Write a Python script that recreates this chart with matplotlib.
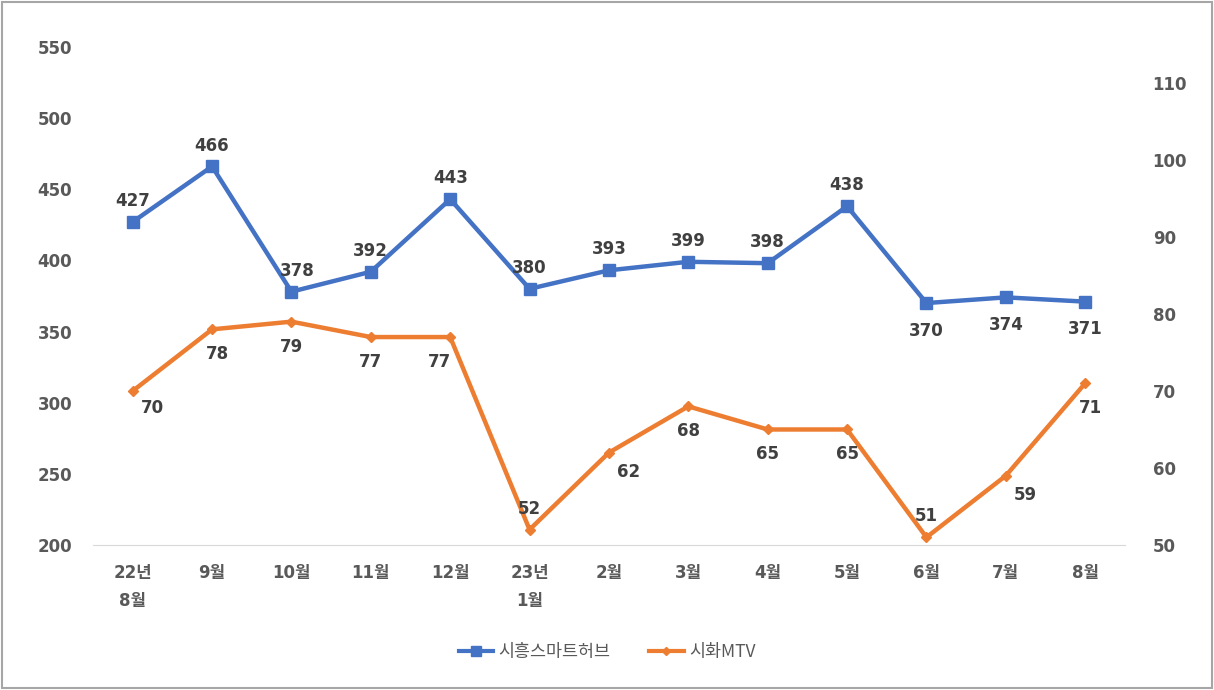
import matplotlib.pyplot as plt
from matplotlib.patches import Rectangle

plt.rcParams['font.family'] = ['DejaVu Sans', 'Noto Sans CJK KR']

months = ['22년\n8월', '9월', '10월', '11월', '12월', '23년\n1월', '2월',
          '3월', '4월', '5월', '6월', '7월', '8월']
siheung = [427, 466, 378, 392, 443, 380, 393, 399, 398, 438, 370, 374, 371]
sihwa = [70, 78, 79, 77, 77, 52, 62, 68, 65, 65, 51, 59, 71]

# label offsets (points) for each series
blue_off = [(0, 15), (0, 15), (4, 15), (0, 15), (0, 15), (0, 15), (0, 15),
            (0, 15), (0, 15), (0, 15), (0, -20), (0, -20), (0, -20)]
orange_off = [(14, -12), (4, -18), (0, -18), (0, -18), (-8, -18), (0, 15),
              (14, -14), (0, -18), (0, -18), (0, -18), (0, 15), (14, -14), (4, -18)]

blue = '#4472C4'
orange = '#ED7D31'
txt = '#404040'

fig = plt.figure(figsize=(12.14, 6.9), dpi=100)
ax = fig.add_axes([0.0766, 0.2101, 0.85, 0.722])
ax2 = ax.twinx()

x = list(range(len(months)))
ax.plot(x, siheung, color=blue, lw=3.2, marker='s', ms=8, zorder=3)
ax2.plot(x, sihwa, color=orange, lw=3.2, marker='D', ms=5, zorder=3)

for i, v in enumerate(siheung):
    ax.annotate(str(v), (i, v), xytext=blue_off[i], textcoords='offset points',
                ha='center', va='center', fontsize=12, fontweight='bold', color=txt)
for i, v in enumerate(sihwa):
    ax2.annotate(str(v), (i, v), xytext=orange_off[i], textcoords='offset points',
                 ha='center', va='center', fontsize=12, fontweight='bold', color=txt)

ax.set_xlim(-0.5, 12.5)
ax.set_ylim(200, 550)
ax.set_yticks(range(200, 551, 50))
ax2.set_ylim(50, 50 + 498 / 7.7)
ax2.set_yticks(range(50, 111, 10))
ax.set_xticks(x)
ax.set_xticklabels(months, linespacing=1.7)

for a in (ax, ax2):
    for s in a.spines.values():
        s.set_visible(False)
    a.tick_params(length=0, labelsize=12, labelcolor='#595959')
    for lab in a.get_yticklabels() + a.get_xticklabels():
        lab.set_fontweight('bold')
ax.spines['bottom'].set_visible(True)
ax.spines['bottom'].set_color('#d9d9d9')
ax.tick_params(axis='y', pad=15)
ax.tick_params(axis='x', pad=14)
ax2.tick_params(axis='y', pad=20)

h1, = ax.plot([], [], color=blue, lw=3, marker='s', ms=7)
h2, = ax.plot([], [], color=orange, lw=3, marker='D', ms=4)
fig.legend([h1, h2], ['시흥스마트허브', '시화MTV'], loc='center',
           bbox_to_anchor=(0.5, 0.055), ncol=2, frameon=False,
           handlelength=2.0, handletextpad=0.3, columnspacing=2.2,
           labelcolor='#595959', prop={'family': 'Noto Sans CJK KR', 'size': 12.5})

fig.add_artist(Rectangle((0.002, 0.003), 0.996, 0.994, transform=fig.transFigure,
                         fill=False, edgecolor='#a6a6a6', lw=1.5))

fig.savefig('out.png', dpi=100)
